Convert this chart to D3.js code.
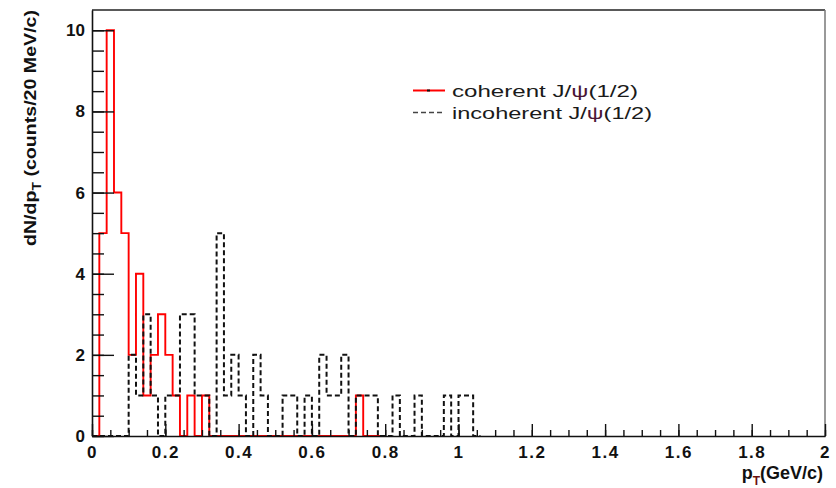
<!DOCTYPE html>
<html>
<head>
<meta charset="utf-8">
<script src="https://cdn.jsdelivr.net/npm/d3@7"></script>
<style>
    body { margin: 0; background: #fff; }
    svg { display: block; font-family: 'Liberation Sans', Arial, sans-serif; }
    .axis text { font-weight: bold; font-size: 17px; fill: #111; }
    .axis path, .axis line { stroke: #111; }
</style>
</head>
<body>
<div class="svg-container"></div>
<script>
//Data - counts per 20 MeV/c bin, first bin starts at pT = 0
const binWidth = 0.02;
const coherentCounts = [
    0, 5, 10, 6, 5, 2, 4, 1, 2, 3,
    2, 1, 0, 1, 0, 1, 0, 0, 0, 0,
    0, 0, 0, 0, 0, 0, 0, 0, 0, 0,
    0, 0, 0, 0, 0, 0, 1, 0, 0, 0
];
const incoherentCounts = [
    0, 0, 0, 0, 0, 2, 1, 3, 1, 0,
    1, 1, 3, 3, 1, 1, 0, 5, 1, 2,
    1, 0, 2, 1, 0, 0, 1, 1, 0, 1,
    0, 2, 1, 1, 2, 0, 1, 1, 1, 0,
    0, 1, 0, 0, 1, 0, 0, 0, 1, 0,
    1, 1, 0
];
const xTickValues = [0, 0.2, 0.4, 0.6, 0.8, 1, 1.2, 1.4, 1.6, 1.8, 2];
const xTickLabels = ['0', '0.2', '0.4', '0.6', '0.8', '1', '1.2', '1.4', '1.6', '1.8', '2'];
const yTickValues = [0, 2, 4, 6, 8, 10];
const yTickLabels = ['0', '2', '4', '6', '8', '10'];
const legendLabels = ['coherent J/ψ(1/2)', 'incoherent J/ψ(1/2)'];

//turn bin counts into step points [low edge, count]
function stepPoints(counts){
    const pts = counts.map((c, i) => [i * binWidth, c]);
    pts.push([counts.length * binWidth, 0]);
    return pts;
}

function ready(){
    const W = 836, H = 488;
    const margin = {top: 10, right: 10, bottom: 52, left: 92};

    const xScale = d3.scaleLinear().domain([0, 2]).range([margin.left, W - margin.right - 1]);
    const yScale = d3.scaleLinear().domain([0, 10.5]).range([H - margin.bottom, margin.top]);

    const svg = d3.select('.svg-container')
        .append('svg')
        .attr('width', W)
        .attr('height', H);

    //histograms
    const line = d3.line()
        .x(d => xScale(d[0]))
        .y(d => yScale(d[1]))
        .curve(d3.curveStepAfter);

    svg.append('path')
        .attr('d', line(stepPoints(coherentCounts)))
        .attr('fill', 'none')
        .attr('stroke', '#ff0000')
        .attr('stroke-width', 1.9);

    svg.append('path')
        .attr('d', line(stepPoints(incoherentCounts)))
        .attr('fill', 'none')
        .attr('stroke', '#111')
        .attr('stroke-width', 2)
        .attr('stroke-dasharray', '5,3');

    //frame top / right
    svg.append('line')
        .attr('x1', xScale(0)).attr('x2', xScale(2))
        .attr('y1', yScale(10.5)).attr('y2', yScale(10.5))
        .attr('stroke', '#222').attr('stroke-width', 1.5);
    svg.append('line')
        .attr('x1', xScale(2)).attr('x2', xScale(2))
        .attr('y1', yScale(10.5)).attr('y2', yScale(0))
        .attr('stroke', '#777').attr('stroke-width', 1.5);

    //x axis - minor ticks then major with labels
    svg.append('g')
        .attr('class', 'x axis minor')
        .attr('transform', `translate(0, ${yScale(0)})`)
        .call(d3.axisBottom(xScale).tickValues(d3.range(0, 2.001, 0.05)).tickSize(-6).tickSizeOuter(0).tickFormat(''))
        .call(g => g.selectAll('line').attr('stroke-width', 1.4));

    const xAxisDraw = svg.append('g')
        .attr('class', 'x axis')
        .attr('transform', `translate(0, ${yScale(0)})`)
        .call(d3.axisBottom(xScale).tickValues(xTickValues).tickSize(-12).tickSizeOuter(0)
            .tickPadding(10).tickFormat((d, i) => xTickLabels[i]))
        .call(g => g.selectAll('line').attr('stroke-width', 1.4))
        .call(g => g.select('.domain').attr('stroke-width', 1.6));
    xAxisDraw.selectAll('text').attr('letter-spacing', '1.5px');

    //y axis
    svg.append('g')
        .attr('class', 'y axis minor')
        .attr('transform', `translate(${xScale(0)}, 0)`)
        .call(d3.axisLeft(yScale).tickValues(d3.range(0, 10.01, 0.5)).tickSize(-12).tickSizeOuter(0).tickFormat(''))
        .call(g => g.selectAll('line').attr('stroke-width', 1.4));

    svg.append('g')
        .attr('class', 'y axis')
        .attr('transform', `translate(${xScale(0)}, 0)`)
        .call(d3.axisLeft(yScale).tickValues(yTickValues).tickSize(-22).tickSizeOuter(0)
            .tickPadding(7).tickFormat((d, i) => yTickLabels[i]))
        .call(g => g.selectAll('line').attr('stroke-width', 1.4))
        .call(g => g.select('.domain').attr('stroke-width', 1.6));

    //axis titles
    const ytitle = svg.append('text')
        .attr('transform', `translate(36, ${yScale(10.5)}) rotate(-90)`)
        .attr('text-anchor', 'end')
        .attr('font-weight', 'bold')
        .attr('font-size', 17)
        .attr('fill', '#111')
        .attr('textLength', 236)
        .attr('lengthAdjust', 'spacingAndGlyphs');
    ytitle.append('tspan').text('dN/dp');
    ytitle.append('tspan').attr('dy', 5).attr('font-size', 12).text('T');
    ytitle.append('tspan').attr('dy', -5).text(' (counts/20 MeV/c)');

    const xtitle = svg.append('text')
        .attr('x', xScale(2) - 2)
        .attr('y', 479)
        .attr('text-anchor', 'end')
        .attr('font-weight', 'bold')
        .attr('font-size', 18)
        .attr('fill', '#111');
    xtitle.append('tspan').text('p');
    xtitle.append('tspan').attr('dy', 6).attr('font-size', 12).attr('fill', '#6b1010').text('T');
    xtitle.append('tspan').attr('dy', -6).text('(GeV/c)');

    //legend
    const legend = svg.append('g').attr('class', 'legend');
    const rows = [
        {label: legendLabels[0], color: '#ff0000', dash: null, y: 90.5, len: 186},
        {label: legendLabels[1], color: '#444', dash: '5,3', y: 112.5, len: 200}
    ];
    rows.forEach(r => {
        legend.append('line')
            .attr('x1', 413).attr('x2', 445)
            .attr('y1', r.y).attr('y2', r.y)
            .attr('stroke', r.color)
            .attr('stroke-width', r.dash ? 1.4 : 2)
            .attr('stroke-dasharray', r.dash);
        const t = legend.append('text')
            .attr('x', 452).attr('y', r.y + 6)
            .attr('font-size', 17)
            .attr('fill', '#1a1a1a')
            .attr('textLength', r.len)
            .attr('lengthAdjust', 'spacingAndGlyphs');
        const parts = r.label.split('ψ');
        t.append('tspan').text(parts[0]);
        t.append('tspan').attr('fill', '#4b1535').text('ψ');
        t.append('tspan').text(parts[1]);
    });
    //marker dot on coherent legend line
    legend.append('rect')
        .attr('x', 427).attr('y', 89.5).attr('width', 3).attr('height', 2)
        .attr('fill', '#111');
}

ready();
</script>
</body>
</html>
